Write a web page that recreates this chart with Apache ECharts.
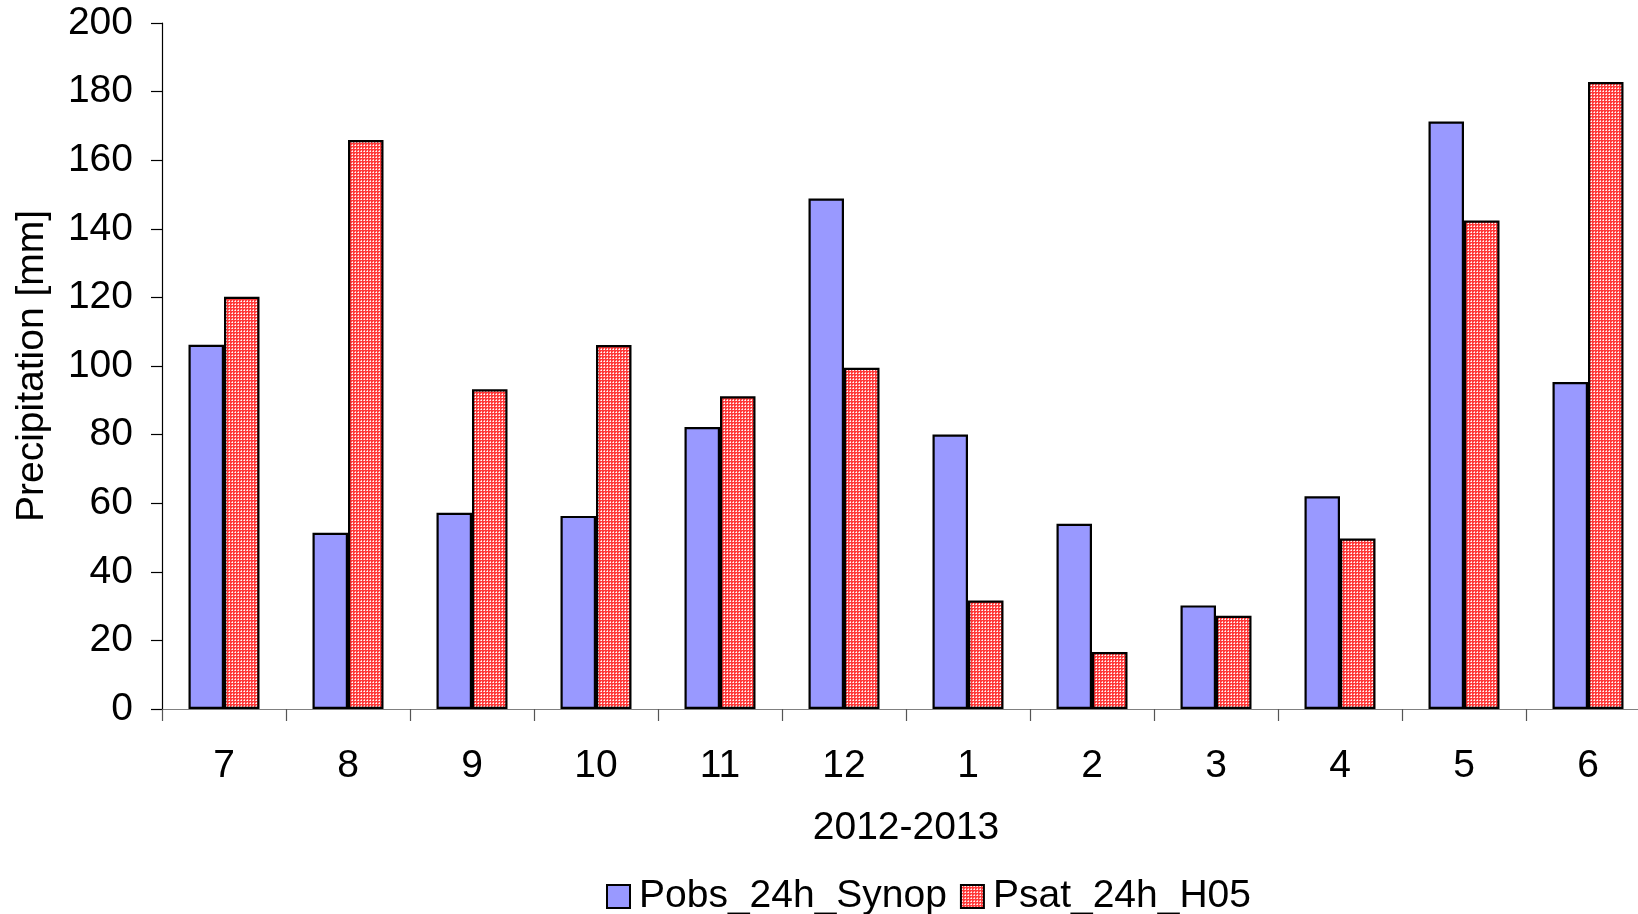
<!DOCTYPE html>
<html>
<head>
<meta charset="utf-8">
<script src="https://cdn.jsdelivr.net/npm/echarts@6/dist/echarts.min.js"></script>
<style>
  html, body { margin: 0; padding: 0; background: #fff; }
  #chart { width: 1638px; height: 914px; }
</style>
</head>
<body>
<div id="chart"></div>
<script>
// Monthly precipitation totals, July 2012 - June 2013
const months = ['7', '8', '9', '10', '11', '12', '1', '2', '3', '4', '5', '6'];
const pobsSynop = [106.2, 51.4, 57.2, 56.3, 82.2, 148.8, 80.0, 54.0, 30.2, 62.0, 171.3, 95.3];
const psatH05 = [120.2, 165.9, 93.2, 106.1, 91.2, 99.5, 31.6, 16.6, 27.2, 49.7, 142.4, 182.8];
const yTicks = { min: 0, max: 200, interval: 20 };

// Fine dotted red fill for the satellite series
function dotPattern() {
  const c = document.createElement('canvas');
  c.width = 3; c.height = 3;
  const g = c.getContext('2d');
  g.fillStyle = '#ff3a3a';
  g.fillRect(0, 0, 3, 3);
  g.fillStyle = '#ffb4b4';
  g.fillRect(1, 0, 1, 1);
  g.fillRect(0, 1, 1, 1);
  g.fillStyle = '#ffffff';
  g.fillRect(1, 1, 1, 1);
  return c;
}

const font = 'Liberation Sans, Arial, sans-serif';
const fs = 39;
const chart = echarts.init(document.getElementById('chart'), null, { renderer: 'canvas' });

chart.setOption({
  animation: false,
  backgroundColor: '#ffffff',
  textStyle: { fontFamily: font, color: '#000' },
  // plot area runs past the right edge of the canvas
  grid: { left: 162, width: 1488, top: 23, height: 686, containLabel: false, outerBoundsMode: 'none' },
  legend: {
    left: 601,
    top: 872,
    icon: 'rect',
    itemWidth: 23,
    itemHeight: 23,
    itemGap: 13,
    textStyle: { fontSize: fs, fontFamily: font, color: '#000', padding: [0, 0, 0, 4] },
    data: ['Pobs_24h_Synop', 'Psat_24h_H05']
  },
  xAxis: {
    type: 'category',
    data: months,
    name: '2012-2013',
    nameLocation: 'middle',
    nameGap: 100,
    nameTextStyle: { fontSize: fs, fontFamily: font, color: '#000' },
    boundaryGap: true,
    axisLine: { lineStyle: { color: '#808080', width: 1.2 } },
    axisTick: { show: true, length: 12, alignWithLabel: false, lineStyle: { color: '#555', width: 1.2 } },
    axisLabel: { fontSize: fs, fontFamily: font, color: '#000', margin: 38, interval: 0 },
    splitLine: { show: false }
  },
  yAxis: {
    type: 'value',
    min: yTicks.min,
    max: yTicks.max,
    interval: yTicks.interval,
    name: 'Precipitation [mm]',
    nameLocation: 'middle',
    nameGap: 110,
    nameTextStyle: { fontSize: fs, fontFamily: font, color: '#000' },
    axisLine: { show: true, lineStyle: { color: '#000', width: 1.2 } },
    axisTick: { show: true, length: 11, lineStyle: { color: '#000', width: 1.2 } },
    axisLabel: { fontSize: fs, fontFamily: font, color: '#000', margin: 29 },
    splitLine: { show: false }
  },
  series: [
    {
      name: 'Pobs_24h_Synop',
      type: 'bar',
      data: pobsSynop,
      barWidth: 35.5,
      barGap: '0%',
      itemStyle: { color: '#9999ff', borderColor: '#000', borderWidth: 2.2 }
    },
    {
      name: 'Psat_24h_H05',
      type: 'bar',
      data: psatH05,
      barWidth: 35.5,
      barGap: '0%',
      itemStyle: {
        color: { image: dotPattern(), repeat: 'repeat' },
        borderColor: '#000',
        borderWidth: 2.2
      }
    }
  ]
});
</script>
</body>
</html>
